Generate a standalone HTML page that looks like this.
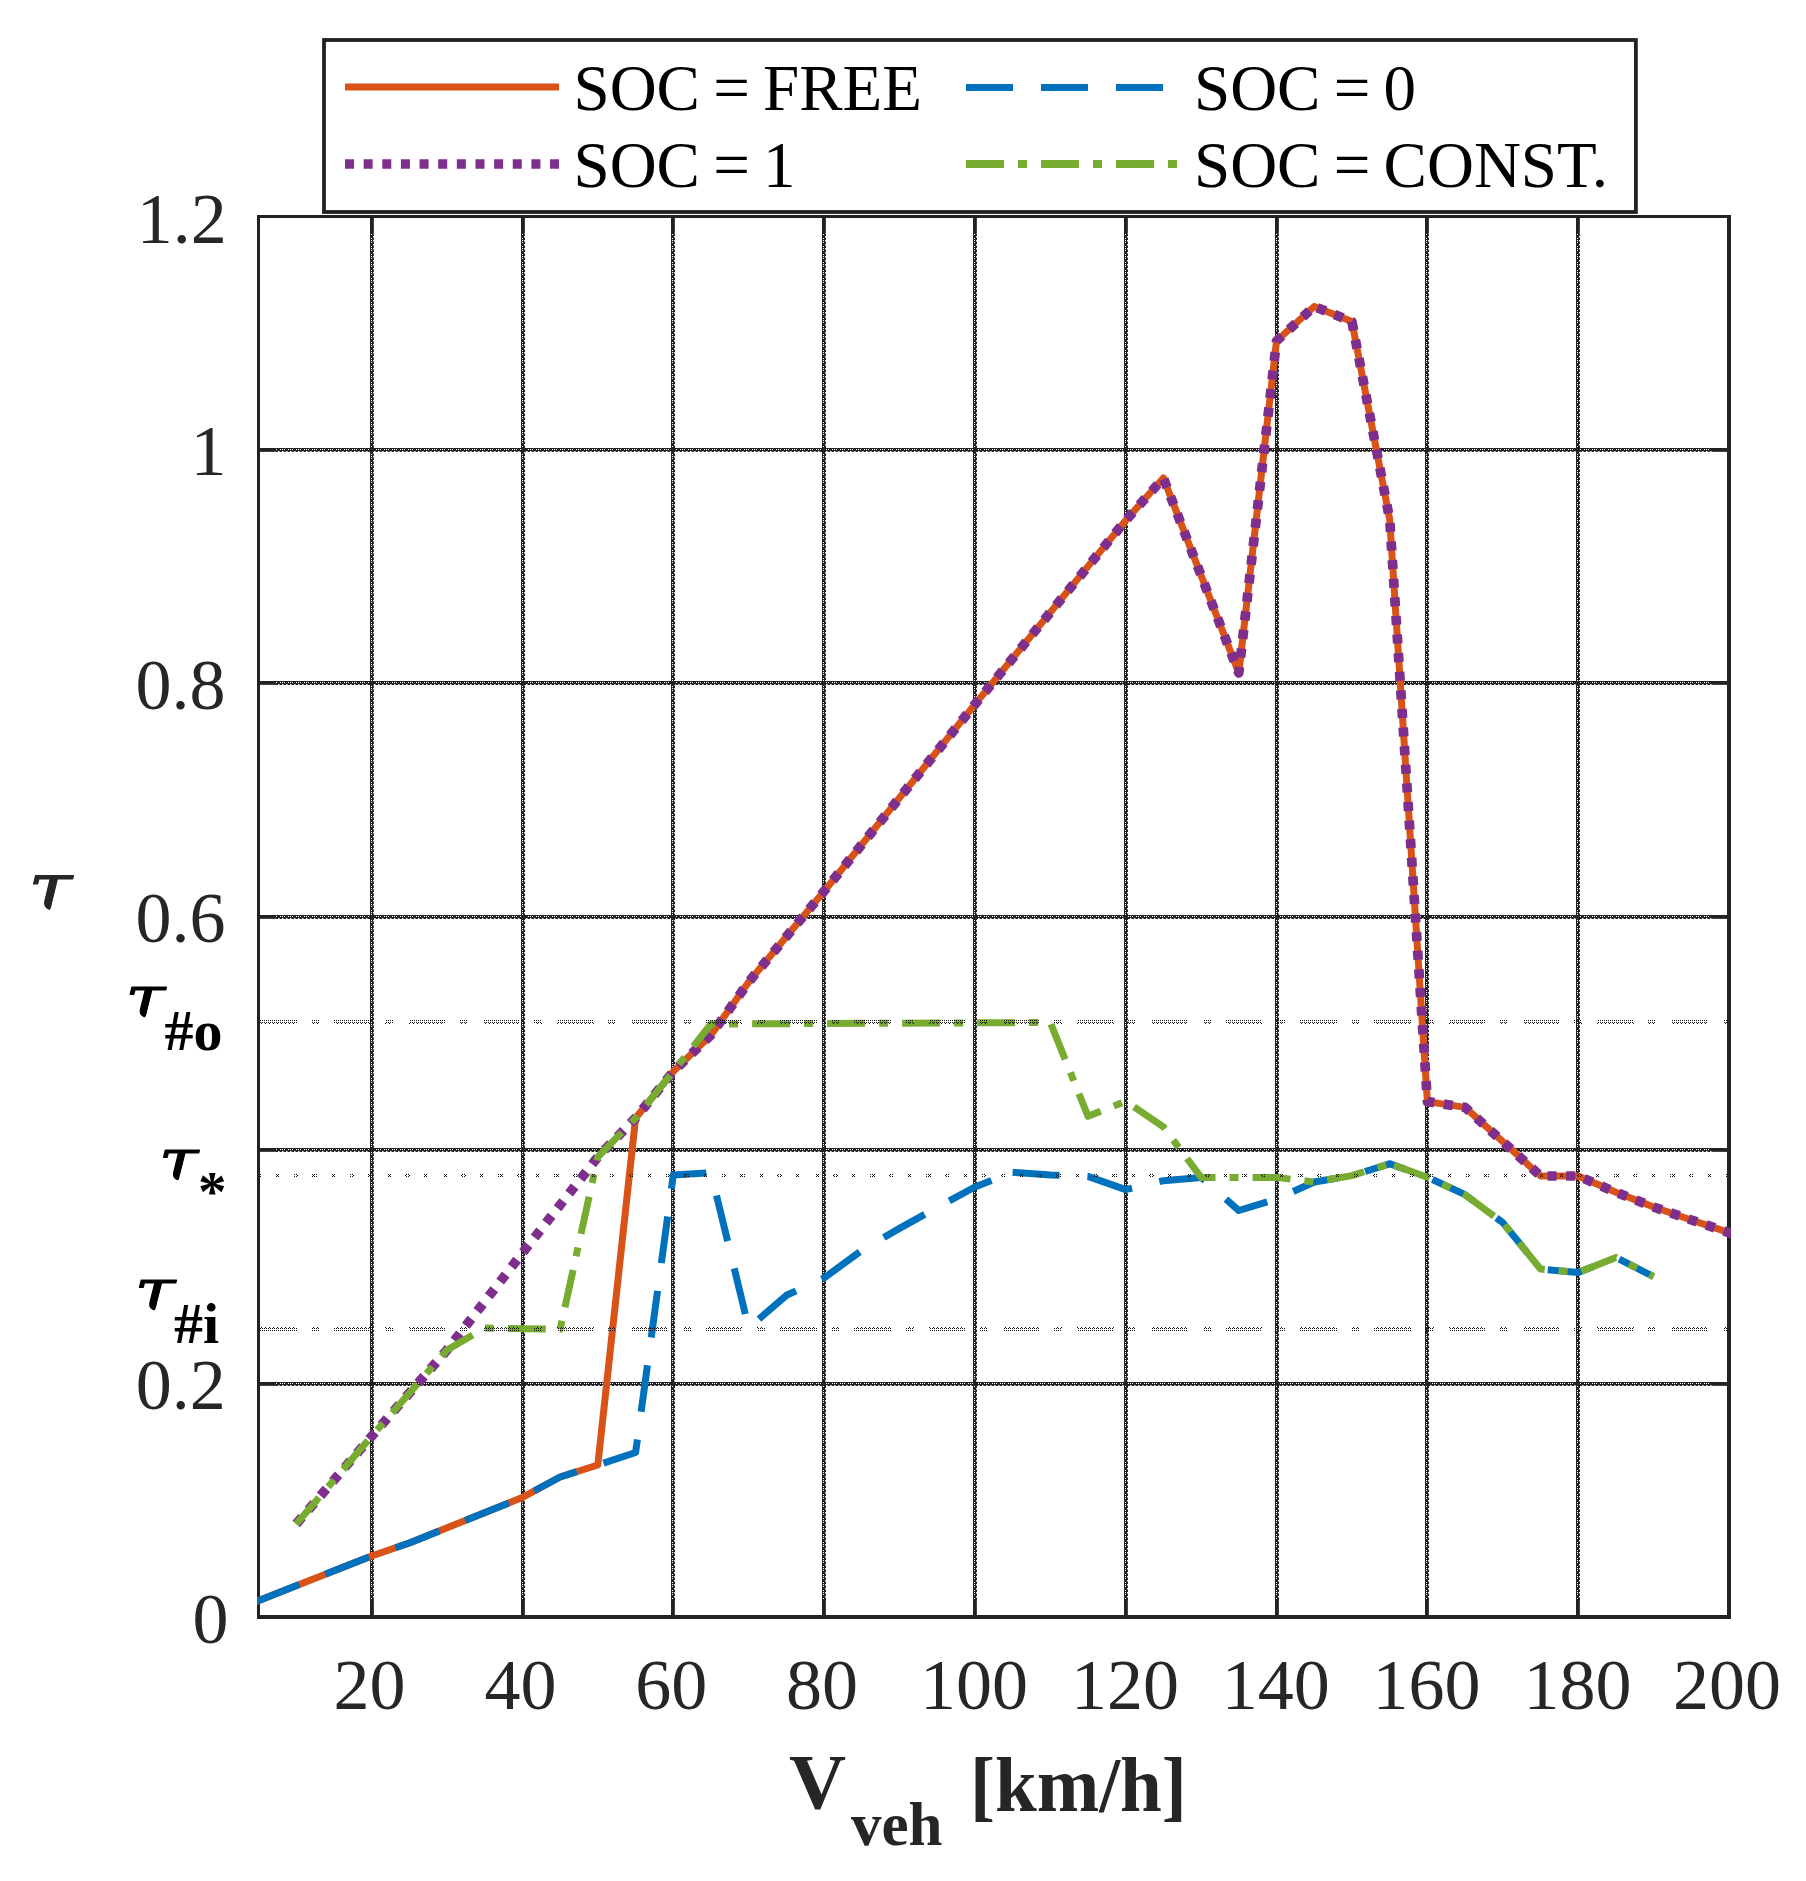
<!DOCTYPE html>
<html><head><meta charset="utf-8"><title>tau vs vehicle speed</title>
<style>
html,body{margin:0;padding:0;background:#fff}
svg{display:block}
text{font-family:"Liberation Serif","DejaVu Serif",serif;fill:#262626}
.tk{font-size:72px}
.lg{font-size:65px;fill:#000;word-spacing:-3px}
.b{font-weight:bold}
text.k{fill:#000}
text.tau{font-family:"DejaVu Serif",serif;font-style:italic;font-weight:normal;font-size:100px}
.bi{font-weight:bold;font-style:italic}
</style></head><body>
<svg width="1806" height="1881" viewBox="0 0 1806 1881">
<rect width="1806" height="1881" fill="#fff"/>
<g stroke="#222222" stroke-width="3" fill="none" shape-rendering="crispEdges">
<line x1="371.5" y1="216.5" x2="371.5" y2="1617.0"/>
<line x1="522.5" y1="216.5" x2="522.5" y2="1617.0"/>
<line x1="672.5" y1="216.5" x2="672.5" y2="1617.0"/>
<line x1="823.5" y1="216.5" x2="823.5" y2="1617.0"/>
<line x1="974.5" y1="216.5" x2="974.5" y2="1617.0"/>
<line x1="1125.5" y1="216.5" x2="1125.5" y2="1617.0"/>
<line x1="1276.5" y1="216.5" x2="1276.5" y2="1617.0"/>
<line x1="1426.5" y1="216.5" x2="1426.5" y2="1617.0"/>
<line x1="1577.5" y1="216.5" x2="1577.5" y2="1617.0"/>
<line x1="258.5" y1="1383.5" x2="1729.0" y2="1383.5"/>
<line x1="258.5" y1="1149.5" x2="1729.0" y2="1149.5"/>
<line x1="258.5" y1="916.5" x2="1729.0" y2="916.5"/>
<line x1="258.5" y1="682.5" x2="1729.0" y2="682.5"/>
<line x1="258.5" y1="449.5" x2="1729.0" y2="449.5"/>
</g>
<g stroke="#222222" stroke-width="1" fill="none">
<line x1="373.4" y1="233.5" x2="373.4" y2="1600.0" stroke-dasharray="2.6 1.4"/>
<line x1="524.5" y1="233.5" x2="524.5" y2="1600.0" stroke-dasharray="2.6 1.4"/>
<line x1="674.5" y1="233.5" x2="674.5" y2="1600.0" stroke-dasharray="2.6 1.4"/>
<line x1="825.5" y1="233.5" x2="825.5" y2="1600.0" stroke-dasharray="2.6 1.4"/>
<line x1="976.5" y1="233.5" x2="976.5" y2="1600.0" stroke-dasharray="2.6 1.4"/>
<line x1="1127.5" y1="233.5" x2="1127.5" y2="1600.0" stroke-dasharray="2.6 1.4"/>
<line x1="1278.5" y1="233.5" x2="1278.5" y2="1600.0" stroke-dasharray="2.6 1.4"/>
<line x1="1428.5" y1="233.5" x2="1428.5" y2="1600.0" stroke-dasharray="2.6 1.4"/>
<line x1="1579.5" y1="233.5" x2="1579.5" y2="1600.0" stroke-dasharray="2.6 1.4"/>
<line x1="275.5" y1="1385.5" x2="1712.0" y2="1385.5" stroke-dasharray="2.6 1.4"/>
<line x1="275.5" y1="1151.5" x2="1712.0" y2="1151.5" stroke-dasharray="2.6 1.4"/>
<line x1="275.5" y1="918.5" x2="1712.0" y2="918.5" stroke-dasharray="2.6 1.4"/>
<line x1="275.5" y1="684.5" x2="1712.0" y2="684.5" stroke-dasharray="2.6 1.4"/>
<line x1="275.5" y1="451.4" x2="1712.0" y2="451.4" stroke-dasharray="2.6 1.4"/>
</g>
<g fill="#222222">
<rect x="370" y="216" width="3.85" height="17"/>
<rect x="370" y="1600" width="3.85" height="17"/>
<rect x="521" y="216" width="3.85" height="17"/>
<rect x="521" y="1600" width="3.85" height="17"/>
<rect x="671" y="216" width="3.85" height="17"/>
<rect x="671" y="1600" width="3.85" height="17"/>
<rect x="822" y="216" width="3.85" height="17"/>
<rect x="822" y="1600" width="3.85" height="17"/>
<rect x="973" y="216" width="3.85" height="17"/>
<rect x="973" y="1600" width="3.85" height="17"/>
<rect x="1124" y="216" width="3.85" height="17"/>
<rect x="1124" y="1600" width="3.85" height="17"/>
<rect x="1275" y="216" width="3.85" height="17"/>
<rect x="1275" y="1600" width="3.85" height="17"/>
<rect x="1425" y="216" width="3.85" height="17"/>
<rect x="1425" y="1600" width="3.85" height="17"/>
<rect x="1576" y="216" width="3.85" height="17"/>
<rect x="1576" y="1600" width="3.85" height="17"/>
<rect x="258" y="1382" width="17.5" height="3.85"/>
<rect x="1712" y="1382" width="17" height="3.85"/>
<rect x="258" y="1148" width="17.5" height="3.85"/>
<rect x="1712" y="1148" width="17" height="3.85"/>
<rect x="258" y="915" width="17.5" height="3.85"/>
<rect x="1712" y="915" width="17" height="3.85"/>
<rect x="258" y="681" width="17.5" height="3.85"/>
<rect x="1712" y="681" width="17" height="3.85"/>
<rect x="258" y="448" width="17.5" height="3.85"/>
<rect x="1712" y="448" width="17" height="3.85"/>
</g>
<g stroke="#fff" stroke-width="1" stroke-dasharray="1 3 1 1 1 1" fill="none" shape-rendering="crispEdges">
<line x1="371.5" y1="234.0" x2="371.5" y2="1600.0"/>
<line x1="522.5" y1="234.0" x2="522.5" y2="1600.0"/>
<line x1="672.5" y1="234.0" x2="672.5" y2="1600.0"/>
<line x1="823.5" y1="234.0" x2="823.5" y2="1600.0"/>
<line x1="974.5" y1="234.0" x2="974.5" y2="1600.0"/>
<line x1="1125.5" y1="234.0" x2="1125.5" y2="1600.0"/>
<line x1="1276.5" y1="234.0" x2="1276.5" y2="1600.0"/>
<line x1="1426.5" y1="234.0" x2="1426.5" y2="1600.0"/>
<line x1="1577.5" y1="234.0" x2="1577.5" y2="1600.0"/>
<line x1="276.0" y1="1383.5" x2="1712.0" y2="1383.5"/>
<line x1="276.0" y1="1149.5" x2="1712.0" y2="1149.5"/>
<line x1="276.0" y1="916.5" x2="1712.0" y2="916.5"/>
<line x1="276.0" y1="682.5" x2="1712.0" y2="682.5"/>
<line x1="276.0" y1="449.5" x2="1712.0" y2="449.5"/>
</g>
<g fill="#222222" shape-rendering="crispEdges">
<rect x="370" y="1382" width="4" height="4"/>
<rect x="370" y="1148" width="4" height="4"/>
<rect x="370" y="915" width="4" height="4"/>
<rect x="370" y="681" width="4" height="4"/>
<rect x="370" y="448" width="4" height="4"/>
<rect x="521" y="1382" width="4" height="4"/>
<rect x="521" y="1148" width="4" height="4"/>
<rect x="521" y="915" width="4" height="4"/>
<rect x="521" y="681" width="4" height="4"/>
<rect x="521" y="448" width="4" height="4"/>
<rect x="671" y="1382" width="4" height="4"/>
<rect x="671" y="1148" width="4" height="4"/>
<rect x="671" y="915" width="4" height="4"/>
<rect x="671" y="681" width="4" height="4"/>
<rect x="671" y="448" width="4" height="4"/>
<rect x="822" y="1382" width="4" height="4"/>
<rect x="822" y="1148" width="4" height="4"/>
<rect x="822" y="915" width="4" height="4"/>
<rect x="822" y="681" width="4" height="4"/>
<rect x="822" y="448" width="4" height="4"/>
<rect x="973" y="1382" width="4" height="4"/>
<rect x="973" y="1148" width="4" height="4"/>
<rect x="973" y="915" width="4" height="4"/>
<rect x="973" y="681" width="4" height="4"/>
<rect x="973" y="448" width="4" height="4"/>
<rect x="1124" y="1382" width="4" height="4"/>
<rect x="1124" y="1148" width="4" height="4"/>
<rect x="1124" y="915" width="4" height="4"/>
<rect x="1124" y="681" width="4" height="4"/>
<rect x="1124" y="448" width="4" height="4"/>
<rect x="1275" y="1382" width="4" height="4"/>
<rect x="1275" y="1148" width="4" height="4"/>
<rect x="1275" y="915" width="4" height="4"/>
<rect x="1275" y="681" width="4" height="4"/>
<rect x="1275" y="448" width="4" height="4"/>
<rect x="1425" y="1382" width="4" height="4"/>
<rect x="1425" y="1148" width="4" height="4"/>
<rect x="1425" y="915" width="4" height="4"/>
<rect x="1425" y="681" width="4" height="4"/>
<rect x="1425" y="448" width="4" height="4"/>
<rect x="1576" y="1382" width="4" height="4"/>
<rect x="1576" y="1148" width="4" height="4"/>
<rect x="1576" y="915" width="4" height="4"/>
<rect x="1576" y="681" width="4" height="4"/>
<rect x="1576" y="448" width="4" height="4"/>
</g>
<path fill="#222222" d="M257,215.1h1474v2.8h-1474z M257,215.1h3v1403.8h-3z M1727,215.1h4v1403.8h-4z M257,1615.05h1474v3.85h-1474z"/>
<defs><clipPath id="pc"><rect x="257" y="215.1" width="1474" height="1403.8"/></clipPath></defs>
<g fill="none" stroke-linejoin="round" clip-path="url(#pc)">
<polyline stroke="#D95319" stroke-width="7" points="255.5,1601.8 371.6,1556.0 409.3,1543.0 522.4,1497.4 560.1,1477.0 597.8,1465.0 635.6,1118.0 673.3,1071.5 711.0,1035.0 748.7,982.0 824.1,891.2 974.9,704.4 1125.7,520.4 1163.4,478.0 1238.8,673.0 1276.5,341.0 1314.2,306.5 1351.9,321.5 1389.7,519.5 1427.4,1101.6 1465.1,1107.4 1540.5,1176.0 1578.2,1176.0 1615.9,1192.3 1653.6,1207.0 1691.3,1220.0 1729.0,1232.6 1732.0,1233.6"/>
<polyline stroke="#0072BD" stroke-width="7" stroke-dasharray="47 28" points="255.5,1601.8 371.6,1556.0 409.3,1543.0 522.4,1497.4 560.1,1477.0 597.8,1465.0 635.6,1452.5 673.3,1175.0 711.0,1172.8 748.7,1328.0 786.4,1295.3 824.1,1278.0 861.8,1250.3 899.5,1228.4 937.2,1207.5 974.9,1187.0 1012.6,1172.3"/>
<polyline stroke="#0072BD" stroke-width="7" stroke-dasharray="47 28" stroke-dashoffset="0" points="1012.6,1172.3 1050.3,1175.0 1088.0,1176.4 1125.7,1189.6 1163.4,1180.7 1201.1,1177.4 1238.8,1210.5 1276.5,1199.0 1314.2,1182.0 1351.9,1175.6 1389.7,1163.8"/>
<polyline stroke="#0072BD" stroke-width="7" stroke-dasharray="47 28" stroke-dashoffset="29.5" points="1389.7,1163.8 1427.4,1177.2 1465.1,1194.7 1502.8,1222.6 1540.5,1269.0 1578.2,1272.6 1615.9,1257.4 1653.6,1276.7"/>
<circle cx="1389.7" cy="1163.8" r="3.5" fill="#0072BD"/>
<polyline stroke="#7E2F8E" stroke-width="9.7" stroke-dasharray="9 9.64" points="296.2,1524.0 371.6,1436.3 447.0,1350.0 522.4,1253.0 597.8,1157.0 635.6,1118.0 673.3,1071.5 711.0,1035.0 748.7,982.0 824.1,891.2 974.9,704.4 1125.7,520.4 1163.4,478.0 1238.8,673.0 1276.5,341.0 1314.2,306.5 1351.9,321.5 1389.7,519.5 1427.4,1101.6 1465.1,1107.4 1540.5,1176.0 1578.2,1176.0 1615.9,1192.3 1653.6,1207.0 1691.3,1220.0 1729.0,1232.6 1732.0,1233.6"/>
<polyline stroke="#77AC30" stroke-width="7" stroke-dasharray="38 14 9 14" stroke-dashoffset="3" points="296.2,1524.0 371.6,1436.3 447.0,1350.0 484.7,1328.0 560.1,1329.3 597.8,1157.0 635.6,1118.0 673.3,1071.5 711.0,1024.0"/>
<polyline stroke="#77AC30" stroke-width="7" stroke-dasharray="38 14 9 14" stroke-dashoffset="33.9" points="711.0,1024.0 1050.3,1022.5 1088.0,1116.3 1125.7,1101.2 1163.4,1126.9 1201.1,1177.4 1276.5,1177.4 1314.2,1182.0 1351.9,1175.6 1389.7,1163.8"/>
<polyline stroke="#77AC30" stroke-width="7" stroke-dasharray="38 14 9 14" stroke-dashoffset="70.5" points="1389.7,1163.8 1427.4,1177.2 1465.1,1194.7 1502.8,1222.6 1540.5,1269.0 1578.2,1272.6 1615.9,1257.4 1653.6,1276.7"/>
<circle cx="711.0" cy="1024" r="3.5" fill="#77AC30"/>
</g>
<defs><pattern id="dz" x="0" y="0" width="4" height="4" patternUnits="userSpaceOnUse"><path d="M0,0h1v1h-1z M2,0h1v1h-1z M0,2h1v1h-1z M2,2h1v1h-1z M1,3h1v1h-1z" fill="#111" shape-rendering="crispEdges"/></pattern></defs>
<g stroke="url(#dz)" stroke-width="4" fill="none" shape-rendering="crispEdges">
<path d="M260,1022 H1727" stroke-dasharray="36.5 14.6 8 15.2"/>
<path d="M260,1329 H1727" stroke-dasharray="36.5 14.6 8 15.2"/>
<path d="M256.5,1175 H1727" stroke-dasharray="4.5 14.1"/>
</g>
<rect x="324" y="40" width="1311.9" height="172" fill="#fff" stroke="#222222" stroke-width="3.8"/>
<line x1="345" y1="87" x2="559" y2="87" stroke="#D95319" stroke-width="7"/>
<line x1="345" y1="164" x2="559" y2="164" stroke="#7E2F8E" stroke-width="9.7" stroke-dasharray="9 9.64"/>
<line x1="966" y1="87.4" x2="1180" y2="87.4" stroke="#0072BD" stroke-width="7" stroke-dasharray="47 28"/>
<line x1="966" y1="164" x2="1180" y2="164" stroke="#77AC30" stroke-width="8" stroke-dasharray="38 14 9 14"/>
<text class="lg" x="573.5" y="110.3">SOC = FREE</text>
<text class="lg" x="573.5" y="187">SOC = 1</text>
<text class="lg" x="1194" y="110.3">SOC = 0</text>
<text class="lg" x="1194" y="187">SOC = CONST.</text>
<text class="tk" x="226.7" y="242.5" text-anchor="end">1.2</text>
<text class="tk" x="226.5" y="475.2" text-anchor="end">1</text>
<text class="tk" x="225.5" y="709.0" text-anchor="end">0.8</text>
<text class="tk" x="225.5" y="942.0" text-anchor="end">0.6</text>
<text class="tk" x="225.8" y="1409.0" text-anchor="end">0.2</text>
<text class="tk" x="228.6" y="1642.8" text-anchor="end">0</text>
<text class="tk" x="369.6" y="1709.4" text-anchor="middle">20</text>
<text class="tk" x="520.4" y="1709.4" text-anchor="middle">40</text>
<text class="tk" x="671.3" y="1709.4" text-anchor="middle">60</text>
<text class="tk" x="822.1" y="1709.4" text-anchor="middle">80</text>
<text class="tk" x="974.1" y="1709.4" text-anchor="middle">100</text>
<text class="tk" x="1124.9" y="1709.4" text-anchor="middle">120</text>
<text class="tk" x="1275.7" y="1709.4" text-anchor="middle">140</text>
<text class="tk" x="1426.6" y="1709.4" text-anchor="middle">160</text>
<text class="tk" x="1577.4" y="1709.4" text-anchor="middle">180</text>
<text class="tk" x="1727.0" y="1709.4" text-anchor="middle">200</text>
<defs><clipPath id="tc"><path d="M-10,-70 H80 V-44.5 H37.8 L31.0,-15 L29.2,-7 Q28.6,2.4 20.5,2.4 H-10 Z"/></clipPath></defs>
<text transform="translate(28.19 909.88) scale(0.7992 0.6458)" clip-path="url(#tc)" class="tau" style="fill:#262626;stroke:#262626" stroke-width="1.55" stroke-linejoin="round">τ</text>
<text transform="translate(125.37 1017.34) scale(0.7288 0.5777)" clip-path="url(#tc)" class="tau" style="fill:#000;stroke:#000" stroke-width="1.73" stroke-linejoin="round">τ</text>
<text transform="translate(158.63 1180.34) scale(0.7189 0.5739)" clip-path="url(#tc)" class="tau" style="fill:#000;stroke:#000" stroke-width="1.74" stroke-linejoin="round">τ</text>
<text transform="translate(134.49 1310.24) scale(0.7422 0.5758)" clip-path="url(#tc)" class="tau" style="fill:#000;stroke:#000" stroke-width="1.74" stroke-linejoin="round">τ</text>
<text class="b k" font-size="58" x="164.6" y="1050">#o</text>
<text class="b k" font-size="57" x="198" y="1211.3">*</text>
<text class="b k" font-size="58" x="174" y="1342.7">#i</text>
<text x="789" y="1808" class="b" font-size="79">V</text>
<text x="851" y="1845" class="b" font-size="61">veh</text>
<text x="970" y="1810.8" class="b" font-size="79" textLength="216.8" lengthAdjust="spacingAndGlyphs">[km/h]</text>
</svg></body></html>
